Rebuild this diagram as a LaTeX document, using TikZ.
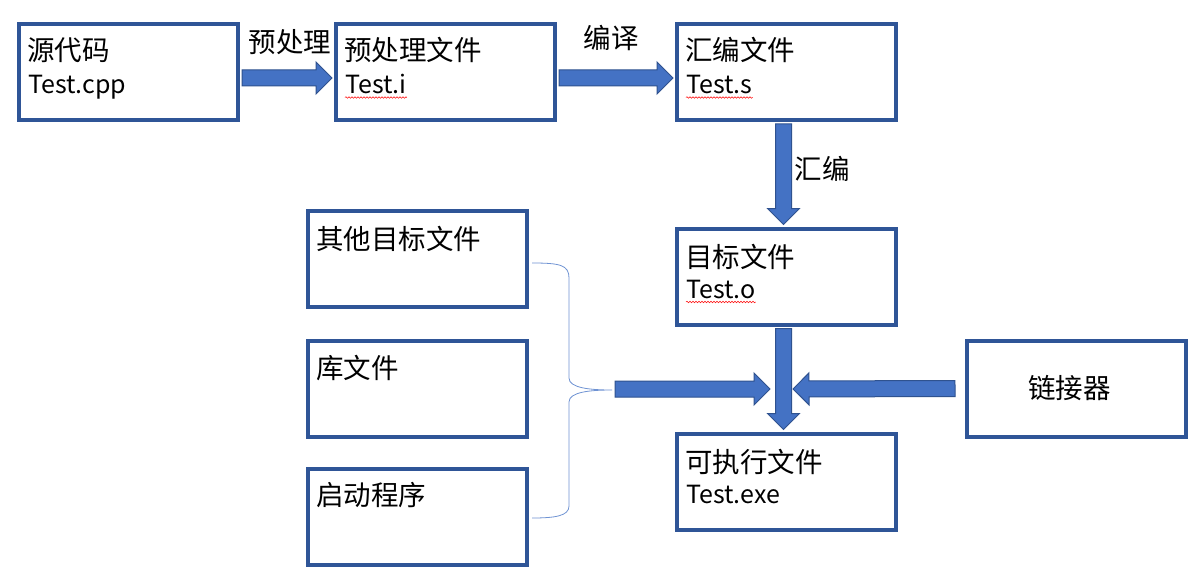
\documentclass[tikz,border=0pt]{standalone}
\usepackage{fontspec}
\newfontfamily\cjk{Noto Sans CJK SC}
\usetikzlibrary{calc,decorations.pathmorphing}
\definecolor{boxblue}{HTML}{2F5597}
\definecolor{arrfill}{HTML}{4472C4}
\definecolor{arredge}{HTML}{2F528F}
\definecolor{bracecol}{HTML}{6F93D3}
\newcommand\blockarrow[2]{%
  \coordinate (bh) at ($(#2)!16pt!(#1)$);
  \filldraw[barrow] ($(#1)!8pt!90:(#2)$) -- ($(bh)!8pt!-90:(#1)$) -- ($(bh)!16pt!-90:(#1)$) -- (#2)
    -- ($(bh)!16pt!90:(#1)$) -- ($(bh)!8pt!90:(#1)$) -- ($(#1)!8pt!-90:(#2)$) -- cycle;}
\begin{document}
\begin{tikzpicture}[x=1pt,y=-1pt,
  box/.style={draw=boxblue, line width=4pt, minimum width=219pt, minimum height=96pt, inner sep=0pt, fill=white},
  cn/.style={font=\cjk\fontsize{27.5}{30}\selectfont, inner sep=0pt, text=black},
  lat/.style={font=\cjk\fontsize{25}{30}\selectfont, inner sep=0pt, text=black},
  barrow/.style={fill=arrfill, draw=arredge, line width=1pt, line join=miter},
  wavy/.style={draw=red, line width=0.5pt, decorate, decoration={snake, amplitude=0.8pt, segment length=3pt}}]
\useasboundingbox (0,0) rectangle (1202,583);
\fill[white] (0,0) rectangle (1202,583);
% boxes (coordinates)
\coordinate (csrc) at (128.5,72);
\coordinate (cpre) at (445.5,72);
\coordinate (casm) at (786.5,72);
\coordinate (cobj) at (786.5,276.5);
\coordinate (cexe) at (786.5,481.5);
\coordinate (clnk) at (1076.5,388.5);
\coordinate (coth) at (417.5,259);
\coordinate (clib) at (417.5,388.5);
\coordinate (cboot) at (417.5,517);
\path (csrc) node[box] (src) {};
\path (cpre) node[box] (pre) {};
\path (casm) node[box] (asm) {};
\path (cobj) node[box] (obj) {};
\path (cexe) node[box] (exe) {};
\path (clnk) node[box] (lnk) {};
\path (coth) node[box] (oth) {};
\path (clib) node[box] (lib) {};
\path (cboot) node[box] (boot) {};
% arrows
\coordinate (a1s) at ($(src.east)+(2,6)$);
\coordinate (a1t) at ($(pre.west)+(-2,6)$);
\coordinate (a2s) at ($(pre.east)+(2,6)$);
\coordinate (a2t) at ($(asm.west)+(-2,6)$);
\coordinate (a3s) at ($(asm.south)+(-3,2)$);
\coordinate (a3t) at ($(obj.north)+(-3,-2)$);
\coordinate (a4s) at ($(obj.south)+(-3,2)$);
\coordinate (a4t) at ($(exe.north)+(-3,-2)$);
\coordinate (bt) at (612,390);
\coordinate (a5s) at (615,389);
\coordinate (a5t) at (770,389);
\coordinate (a6s) at ($(lnk.west)+(-10,0)$);
\coordinate (a6t) at (793,389);
\blockarrow{a1s}{a1t}
\blockarrow{a2s}{a2t}
\blockarrow{a3s}{a3t}
\blockarrow{a4s}{a4t}
\blockarrow{a5s}{a5t}
\blockarrow{a6s}{a6t}
% brace
\draw[bracecol, line width=0.8pt] ($(oth.east)+(3,4)$) .. controls (560,263) and (569,265) .. (569,278) -- (569,378)
  .. controls (569,388) and (590,390) .. (bt) .. controls (590,390) and (569,392) .. (569,402) -- (569,506)
  .. controls (569,516) and (555,518) .. ($(boot.east)+(3,1)$);
% box texts
\node[cn, anchor=west] (t1) at ($(src.north west)+(10,28)$) {源代码};
\node[lat, anchor=base west] (t1b) at ($(src.north west)+(11,72)$) {Test.cpp};
\node[cn, anchor=west] (t2) at ($(pre.north west)+(10,28)$) {预处理文件};
\node[lat, anchor=base west] (t2b) at ($(pre.north west)+(11,72)$) {Test.i};
\node[cn, anchor=west] (t3) at ($(asm.north west)+(10,28)$) {汇编文件};
\node[lat, anchor=base west] (t3b) at ($(asm.north west)+(11,72)$) {Test.s};
\node[cn, anchor=west] (t4) at ($(obj.north west)+(10,30)$) {目标文件};
\node[lat, anchor=base west] (t4b) at ($(obj.north west)+(11,72)$) {Test.o};
\node[cn, anchor=west] (t5) at ($(exe.north west)+(10,30)$) {可执行文件};
\node[lat, anchor=base west] (t5b) at ($(exe.north west)+(11,72)$) {Test.exe};
\node[cn] (t6) at ($(lnk.center)+(-7,0)$) {链接器};
\node[cn, anchor=west] (t7) at ($(oth.north west)+(10,30)$) {其他目标文件};
\node[cn, anchor=west] (t8) at ($(lib.north west)+(10,30)$) {库文件};
\node[cn, anchor=west] (t9) at ($(boot.north west)+(10,28)$) {启动程序};
% spell-check underlines
\draw[wavy] ($(t2b.south west)+(0,3)$) -- ($(t2b.south east)+(0,3)$);
\draw[wavy] ($(t3b.south west)+(0,3)$) -- ($(t3b.south east)+(0,3)$);
\draw[wavy] ($(t4b.south west)+(0,3)$) -- ($(t4b.south east)+(0,3)$);
% arrow labels
\node[cn] (l1) at (290,42) {预处理};
\node[cn] (l2) at (611,38) {编译};
\node[cn] (l3) at (822,169) {汇编};
\end{tikzpicture}
\end{document}
